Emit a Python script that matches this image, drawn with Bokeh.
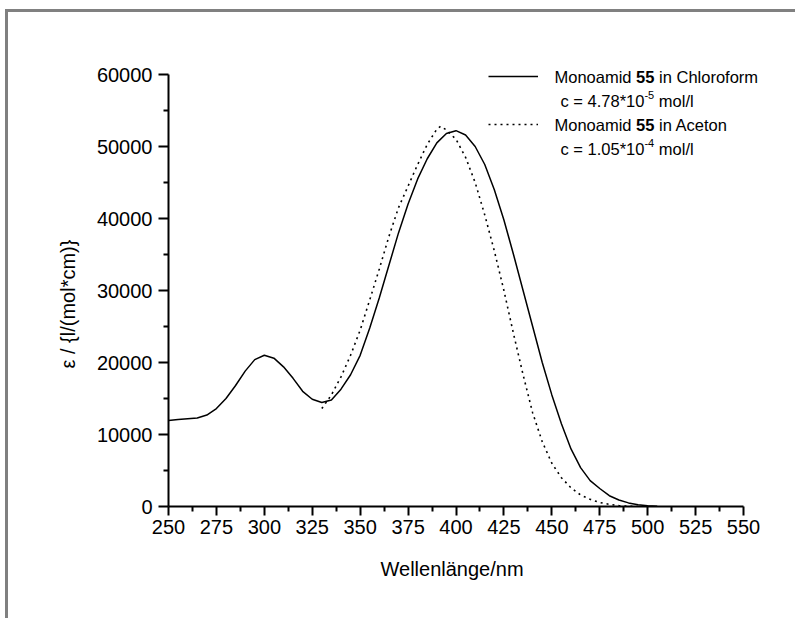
from bokeh.plotting import figure
from bokeh.models import FixedTicker, Label, Legend, LegendItem, ColumnDataSource, Title
from bokeh.embed import file_html
from bokeh.resources import INLINE

# ---- data ----
wl_chloroform = [250, 255, 260, 265, 270, 275, 280, 285, 290, 295, 300, 305, 310, 315, 320,
                 325, 330, 335, 340, 345, 350, 355, 360, 365, 370, 375, 380, 385, 390, 395,
                 400, 405, 410, 415, 420, 425, 430, 435, 440, 445, 450, 455, 460, 465, 470,
                 475, 480, 485, 490, 495, 500, 505]
eps_chloroform = [11950, 12100, 12200, 12300, 12700, 13600, 15000, 16800, 18800, 20400, 21000,
                  20600, 19400, 17800, 16000, 14900, 14450, 14800, 16300, 18300, 21000, 24800,
                  29000, 33500, 38000, 42000, 45500, 48300, 50500, 51800, 52200, 51600, 50000,
                  47500, 44000, 39800, 35000, 30000, 25000, 20000, 15500, 11500, 8000, 5400,
                  3600, 2500, 1500, 900, 500, 250, 100, 30]

wl_aceton = [330, 335, 340, 345, 350, 355, 360, 365, 370, 375, 380, 385, 390, 392, 395, 400,
             405, 410, 415, 420, 425, 430, 435, 440, 445, 450, 455, 460, 465, 470, 475, 480,
             485, 490, 495]
eps_aceton = [13600, 15500, 18000, 21000, 24500, 28700, 33000, 37500, 41500, 44500, 47500,
              50300, 52400, 52800, 52300, 51000, 48500, 45000, 40500, 35500, 30000, 24000,
              18300, 13000, 9000, 6000, 4000, 2600, 1600, 1000, 550, 300, 120, 40, 0]

x_ticks = [250, 275, 300, 325, 350, 375, 400, 425, 450, 475, 500, 525, 550]
x_minor = [262.5, 287.5, 312.5, 337.5, 362.5, 387.5, 412.5, 437.5, 462.5, 487.5, 512.5, 537.5]
y_ticks = [0, 10000, 20000, 30000, 40000, 50000, 60000]
y_minor = [5000, 15000, 25000, 35000, 45000, 55000]

x_title = "Wellenlänge/nm"
y_title = "ε / {l/(mol*cm)}"
legend_rows = [
    ("Monoamid ", "55", " in Chloroform"),
    ("c = 4.78*10", "-5", " mol/l"),
    ("Monoamid ", "55", " in Aceton"),
    ("c = 1.05*10", "-4", " mol/l"),
]

FONT = "Liberation Sans"

# axis spans 250..550 over 575 px and 0..60000 over 432 px; the frame is a bit larger
# so that the legend text (outside the axes box) is not clipped
FW, FH = 617, 456
x_end = 250 + FW * 300 / 575
y_end = FH * 60000 / 432

p = figure(width=160 + FW + 10, height=38 + FH + 112, frame_width=FW, frame_height=FH,
           min_border_left=160, min_border_top=38, min_border_right=10, min_border_bottom=112,
           x_range=(250, x_end), y_range=(0, y_end),
           output_backend="svg", toolbar_location=None)
p.styles = {"border-left": "3px solid #808080", "border-top": "3px solid #808080",
            "margin-left": "5px", "margin-top": "9px"}
p.outline_line_color = None
p.xgrid.visible = False
p.ygrid.visible = False
p.background_fill_color = "white"
p.border_fill_color = "white"

src_c = ColumnDataSource(dict(x=wl_chloroform, y=eps_chloroform))
src_a = ColumnDataSource(dict(x=wl_aceton, y=eps_aceton))
r_c = p.line("x", "y", source=src_c, line_color="black", line_width=1.5)
r_a = p.line("x", "y", source=src_a, line_color="black", line_width=1.6, line_dash="2 4")

for ax, ticks, minor in ((p.xaxis[0], x_ticks, x_minor), (p.yaxis[0], y_ticks, y_minor)):
    ax.ticker = FixedTicker(ticks=ticks, minor_ticks=minor)
    ax.bounds = (ticks[0], ticks[-1])
    ax.axis_line_width = 2
    ax.axis_line_color = "black"
    ax.major_tick_line_width = 2
    ax.minor_tick_line_width = 2
    ax.major_tick_line_color = "black"
    ax.minor_tick_line_color = "black"
    ax.major_tick_in = 0
    ax.minor_tick_in = 0
    ax.major_tick_out = 9
    ax.minor_tick_out = 5
    ax.major_label_text_font = FONT
    ax.major_label_text_font_size = "20px"
    ax.major_label_text_color = "black"

p.xaxis.major_label_standoff = 4
p.yaxis.major_label_standoff = 6
p.yaxis.major_tick_out = 10

# axis titles (placed as titles so that they can be positioned along the axis)
p.add_layout(Title(text=x_title, align="left", offset=212, vertical_align="top", standoff=42,
                   text_font=FONT, text_font_size="20px", text_font_style="normal",
                   text_color="black"), "below")
p.add_layout(Title(text=y_title, align="left", offset=138, vertical_align="bottom", standoff=30,
                   text_font=FONT, text_font_size="20px", text_font_style="normal",
                   text_color="black"), "left")

# legend samples (glyphs from the renderers)
legend = Legend(items=[LegendItem(label=" ", renderers=[r_c]),
                       LegendItem(label=" ", renderers=[r_a])],
                location=(320, 372), glyph_width=50, glyph_height=20, label_height=20,
                spacing=28, padding=0, margin=0, border_line_color=None,
                background_fill_alpha=0, label_text_font_size="2px", label_width=2)
p.add_layout(legend)

# legend texts composed from pieces (Arial/Liberation advance widths)
W = {' ': 278, 'M': 833, 'o': 556, 'n': 556, 'a': 556, 'm': 833, 'i': 222, 'd': 556,
     'C': 722, 'h': 556, 'l': 222, 'r': 333, 'f': 278, 'A': 667, 'e': 556, 't': 278,
     'c': 500, '=': 584, '.': 278, '*': 389, '/': 278, '-': 333}
def width(s, size):
    return sum(W.get(ch, 556) for ch in s) * size / 1000.0

def put(x, y, s, size, style="normal"):
    lead = len(s) - len(s.lstrip(" "))
    x += width(" " * lead, size)
    t = s.strip(" ")
    p.add_layout(Label(x=x, y=y, x_units="screen", y_units="screen", text=t,
                       text_font=FONT, text_font_size=f"{size}px", text_font_style=style,
                       text_baseline="middle", text_color="black"))
    return x + width(t, size) + width(" " * (len(s) - lead - len(t)), size)

LS = 16.5
SS = 11
row_x = [386, 392, 386, 392]
row_y = [430, 406, 382, 358]
for i, (a, b, c) in enumerate(legend_rows):
    y0 = row_y[i]
    x1 = put(row_x[i], y0, a, LS)
    if i % 2 == 1:
        x2 = put(x1, y0 + 6, b, SS)
    else:
        x2 = put(x1, y0, b, LS, "bold")
    put(x2, y0, c, LS)

open("out.html", "w").write(file_html(p, INLINE))
